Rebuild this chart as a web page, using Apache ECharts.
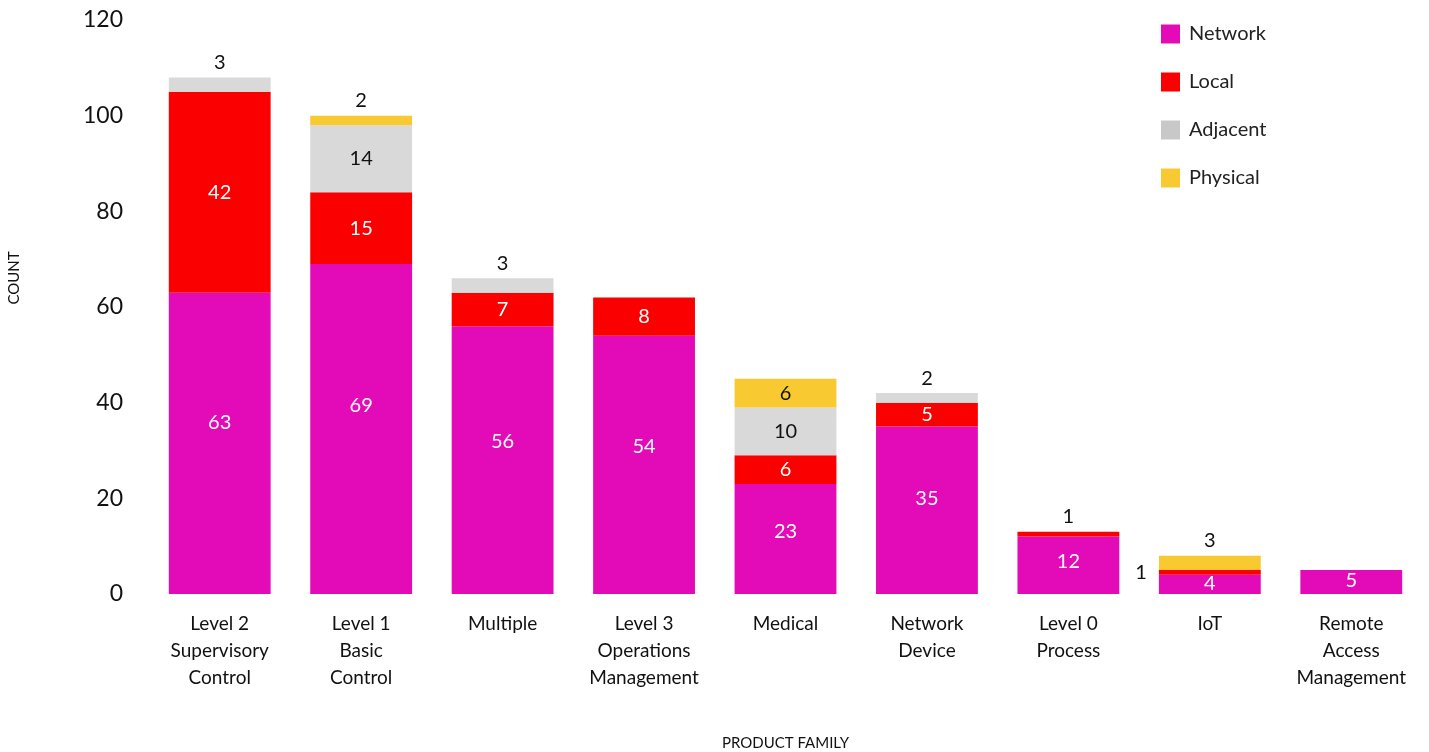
<!DOCTYPE html>
<html><head><meta charset="utf-8">
<script src="https://cdn.jsdelivr.net/npm/echarts@6/dist/echarts.min.js"></script>
<style>html,body{margin:0;padding:0;background:#fff}#c{width:1429px;height:752px}</style>
</head><body><div id="c"></div>
<script>
const categories = ["Level 2\nSupervisory\nControl","Level 1\nBasic\nControl","Multiple","Level 3\nOperations\nManagement","Medical","Network\nDevice","Level 0\nProcess","IoT","Remote\nAccess\nManagement"];
const network  = [63, 69, 56, 54, 23, 35, 12, 4, 5];
const local    = [42, 15, 7, 8, 6, 5, 1, 1, 0];
const adjacent = [3, 14, 3, 0, 10, 2, 0, 0, 0];
const physical = [0, 2, 0, 0, 6, 0, 0, 3, 0];
const yTicks = [0, 20, 40, 60, 80, 100, 120];

const seriesDefs = [
  {name:'Network', data:network, color:'#E20BB7', text:'#fff', inPos:['50%','43%']},
  {name:'Local', data:local, color:'#FA0000', text:'#fff', inPos:'inside'},
  {name:'Adjacent', data:adjacent, color:'#D9D9D9', text:'#111', inPos:'inside'},
  {name:'Physical', data:physical, color:'#F8C930', text:'#111', inPos:'inside'}
];
const FONT = 'Lato, "Noto Sans", sans-serif';
function topIndex(i){ let t=-1; seriesDefs.forEach((s,k)=>{ if(s.data[i]>0) t=k; }); return t; }

const series = seriesDefs.map((s,k)=>({
  name:s.name, type:'bar', stack:'total', barCategoryGap:'28%',
  itemStyle:{color:s.color},
  data:s.data.map((v,i)=>{
    if(!v) return {value:v, label:{show:false}};
    let pos=s.inPos, col=s.text;
    if(v<4){ pos = (topIndex(i)===k) ? 'top' : 'left'; col='#111'; }
    const lab = {show:true, position:pos, color:col, distance: pos==='left'?12:5};
    if(Array.isArray(pos)){ lab.align='center'; lab.verticalAlign='middle'; }
    return {value:v, label:lab};
  }),
  label:{show:true, fontSize:20, fontFamily:FONT}
}));

const chart = echarts.init(document.getElementById('c'));
chart.setOption({
  animation:false,
  textStyle:{fontFamily:FONT},
  grid:{left:149, right:7, top:20, bottom:158, containLabel:false, outerBoundsMode:'none'},
  legend:{
    orient:'vertical', left:1156, top:19, itemWidth:19, itemHeight:19, itemGap:28,
    icon:'rect',
    textStyle:{fontSize:20, color:'#222', fontFamily:FONT, padding:[0,0,0,4]},
    data:[{name:'Network'},{name:'Local'},{name:'Adjacent', itemStyle:{color:'#C8C8C9'}},{name:'Physical'}]
  },
  xAxis:{
    type:'category', data:categories,
    axisLine:{show:false}, axisTick:{show:false},
    axisLabel:{fontSize:19, lineHeight:27, color:'#111', margin:16, interval:0, fontFamily:FONT},
    name:'PRODUCT FAMILY', nameLocation:'middle', nameGap:142,
    nameTextStyle:{fontSize:15, color:'#111', fontFamily:FONT}
  },
  yAxis:{
    type:'value', min:yTicks[0], max:yTicks[yTicks.length-1], interval:20,
    axisLine:{show:false}, axisTick:{show:false}, splitLine:{show:false},
    axisLabel:{fontSize:23, color:'#111', margin:26, fontFamily:FONT},
    name:'COUNT', nameLocation:'middle', nameGap:127,
    nameTextStyle:{fontSize:15, color:'#111', fontFamily:FONT, padding:[0,0,0,58]}
  },
  series:series
});
</script></body></html>
